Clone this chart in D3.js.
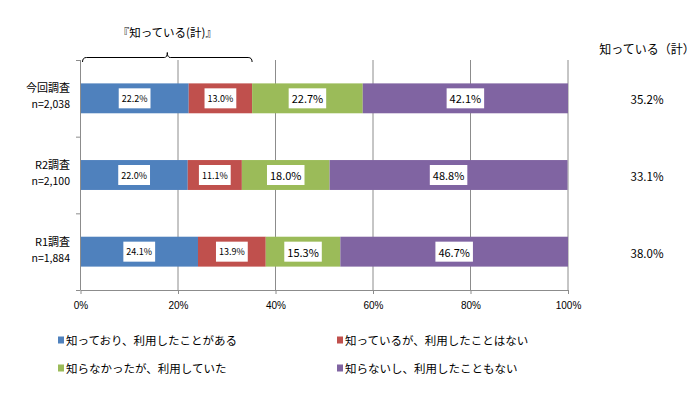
<!DOCTYPE html>
<html><head><meta charset="utf-8">
<script src="https://cdn.jsdelivr.net/npm/d3@7"></script>
<style>body{margin:0;background:#fff;} text{font-family:"Noto Sans CJK JP","Noto Sans",sans-serif;}</style>
</head><body><svg id="c" width="700" height="398"></svg>
<script>
const categories = ["今回調査", "R2調査", "R1調査"];
const sampleSizes = ["n=2,038", "n=2,100", "n=1,884"];
const seriesNames = ["知っており、利用したことがある", "知っているが、利用したことはない", "知らなかったが、利用していた", "知らないし、利用したこともない"];
const seriesColors = ["#4F81BD", "#C0504D", "#9BBB59", "#8064A2"];
const knewUsed = [22.2, 22.0, 24.1];
const knewNotUsed = [13.0, 11.1, 13.9];
const didntKnowUsed = [22.7, 18.0, 15.3];
const neither = [42.1, 48.8, 46.7];
const knowTotal = [35.2, 33.1, 38.0];
const xTicks = [0, 20, 40, 60, 80, 100];

const svg = d3.select("#c");
const x = d3.scaleLinear().domain([0, 100]).range([80.5, 568]);
const y = d3.scaleBand().domain(categories).range([60, 290]).paddingInner(0.61).paddingOuter(0.305);
const yOuter = d3.scaleBand().domain(categories).range([60, 290]);
const series = [knewUsed, knewNotUsed, didntKnowUsed, neither];

// gridlines
svg.append("g").selectAll("line").data(xTicks.slice(1)).join("line")
  .attr("x1", d => x(d)).attr("x2", d => x(d)).attr("y1", 60).attr("y2", 290)
  .attr("stroke", "#8c8c8c").attr("stroke-width", 1);

// bars
categories.forEach((c, i) => {
  let cum = 0;
  series.forEach((s, k) => {
    const v = s[i];
    svg.append("rect").attr("x", x(cum)).attr("y", y(c)).attr("width", x(cum + v) - x(cum)).attr("height", y.bandwidth())
      .attr("fill", seriesColors[k]);
    const cx = x(cum + v / 2), cy = y(c) + y.bandwidth() / 2;
    const fs = k < 2 ? 9 : 11;
    const t = svg.append("text").attr("x", cx).attr("y", cy).attr("text-anchor", "middle").attr("dominant-baseline", "central")
      .attr("font-size", fs).text(v.toFixed(1) + "%");
    const bb = t.node().getBBox();
    svg.insert("rect", () => t.node()).attr("x", bb.x - 3).attr("y", cy - 10).attr("width", bb.width + 6).attr("height", 20).attr("fill", "#fff");
    cum += v;
  });
});

// y axis line and ticks
svg.append("line").attr("x1", 80.5).attr("x2", 80.5).attr("y1", 60).attr("y2", 290).attr("stroke", "#8c8c8c");
const bounds = categories.map(c => yOuter(c)).concat([290]);
svg.append("g").selectAll("line").data(bounds).join("line")
  .attr("x1", 76).attr("x2", 80.5).attr("y1", d => d + 0.5).attr("y2", d => d + 0.5).attr("stroke", "#8c8c8c");

// x axis
const xAxis = svg.append("g").attr("transform", "translate(0,290)")
  .call(d3.axisBottom(x).tickValues(xTicks).tickSize(4).tickSizeOuter(0).tickFormat(d => d + "%"));
xAxis.select(".domain").attr("stroke", "#8c8c8c");
xAxis.selectAll(".tick line").attr("stroke", "#8c8c8c");
xAxis.selectAll(".tick text").attr("font-size", 10).attr("dy", "1.2em").attr("fill", "#000")
  .style("font-family", "'Liberation Sans', Arial, sans-serif");

// category labels
categories.forEach((c, i) => {
  const cy = y(c) + y.bandwidth() / 2;
  svg.append("text").attr("x", 70).attr("y", cy - 6).attr("text-anchor", "end").attr("font-size", 11).text(c);
  svg.append("text").attr("x", 70).attr("y", cy + 10).attr("text-anchor", "end").attr("font-size", 10.5).text(sampleSizes[i]);
});

// right column
svg.append("text").attr("x", 647).attr("y", 48).attr("text-anchor", "middle").attr("dominant-baseline", "central").attr("font-size", 12).text("知っている（計）");
categories.forEach((c, i) => {
  svg.append("text").attr("x", 647).attr("y", y(c) + y.bandwidth() / 2 + 1).attr("text-anchor", "middle")
    .attr("dominant-baseline", "central").attr("font-size", 11.5).text(knowTotal[i].toFixed(1) + "%");
});

// bracket
const bx0 = x(0) + 2, bx1 = x(knowTotal[0]), bm = (bx0 + bx1) / 2, by = 57.5;
svg.append("path").attr("d", `M${bx0},62 Q${bx0},${by} ${bx0 + 4},${by} L${bm - 3},${by} Q${bm},${by} ${bm},${by - 5} Q${bm},${by} ${bm + 3},${by} L${bx1 - 4},${by} Q${bx1},${by} ${bx1},62`)
  .attr("fill", "none").attr("stroke", "#000").attr("stroke-width", 1);
svg.append("text").attr("x", bm).attr("y", 32).attr("text-anchor", "middle").attr("dominant-baseline", "central").attr("font-size", 11.5).text("『知っている(計)』");

// legend
const legPos = [[58, 340], [337, 340], [58, 368], [337, 368]];
seriesNames.forEach((n, k) => {
  const [lx, ly] = legPos[k];
  svg.append("rect").attr("x", lx).attr("y", ly - 3.5).attr("width", 6).attr("height", 7).attr("fill", seriesColors[k]);
  svg.append("text").attr("x", lx + 8).attr("y", ly).attr("dominant-baseline", "central").attr("font-size", 11.5).text(n);
});
</script></body></html>
